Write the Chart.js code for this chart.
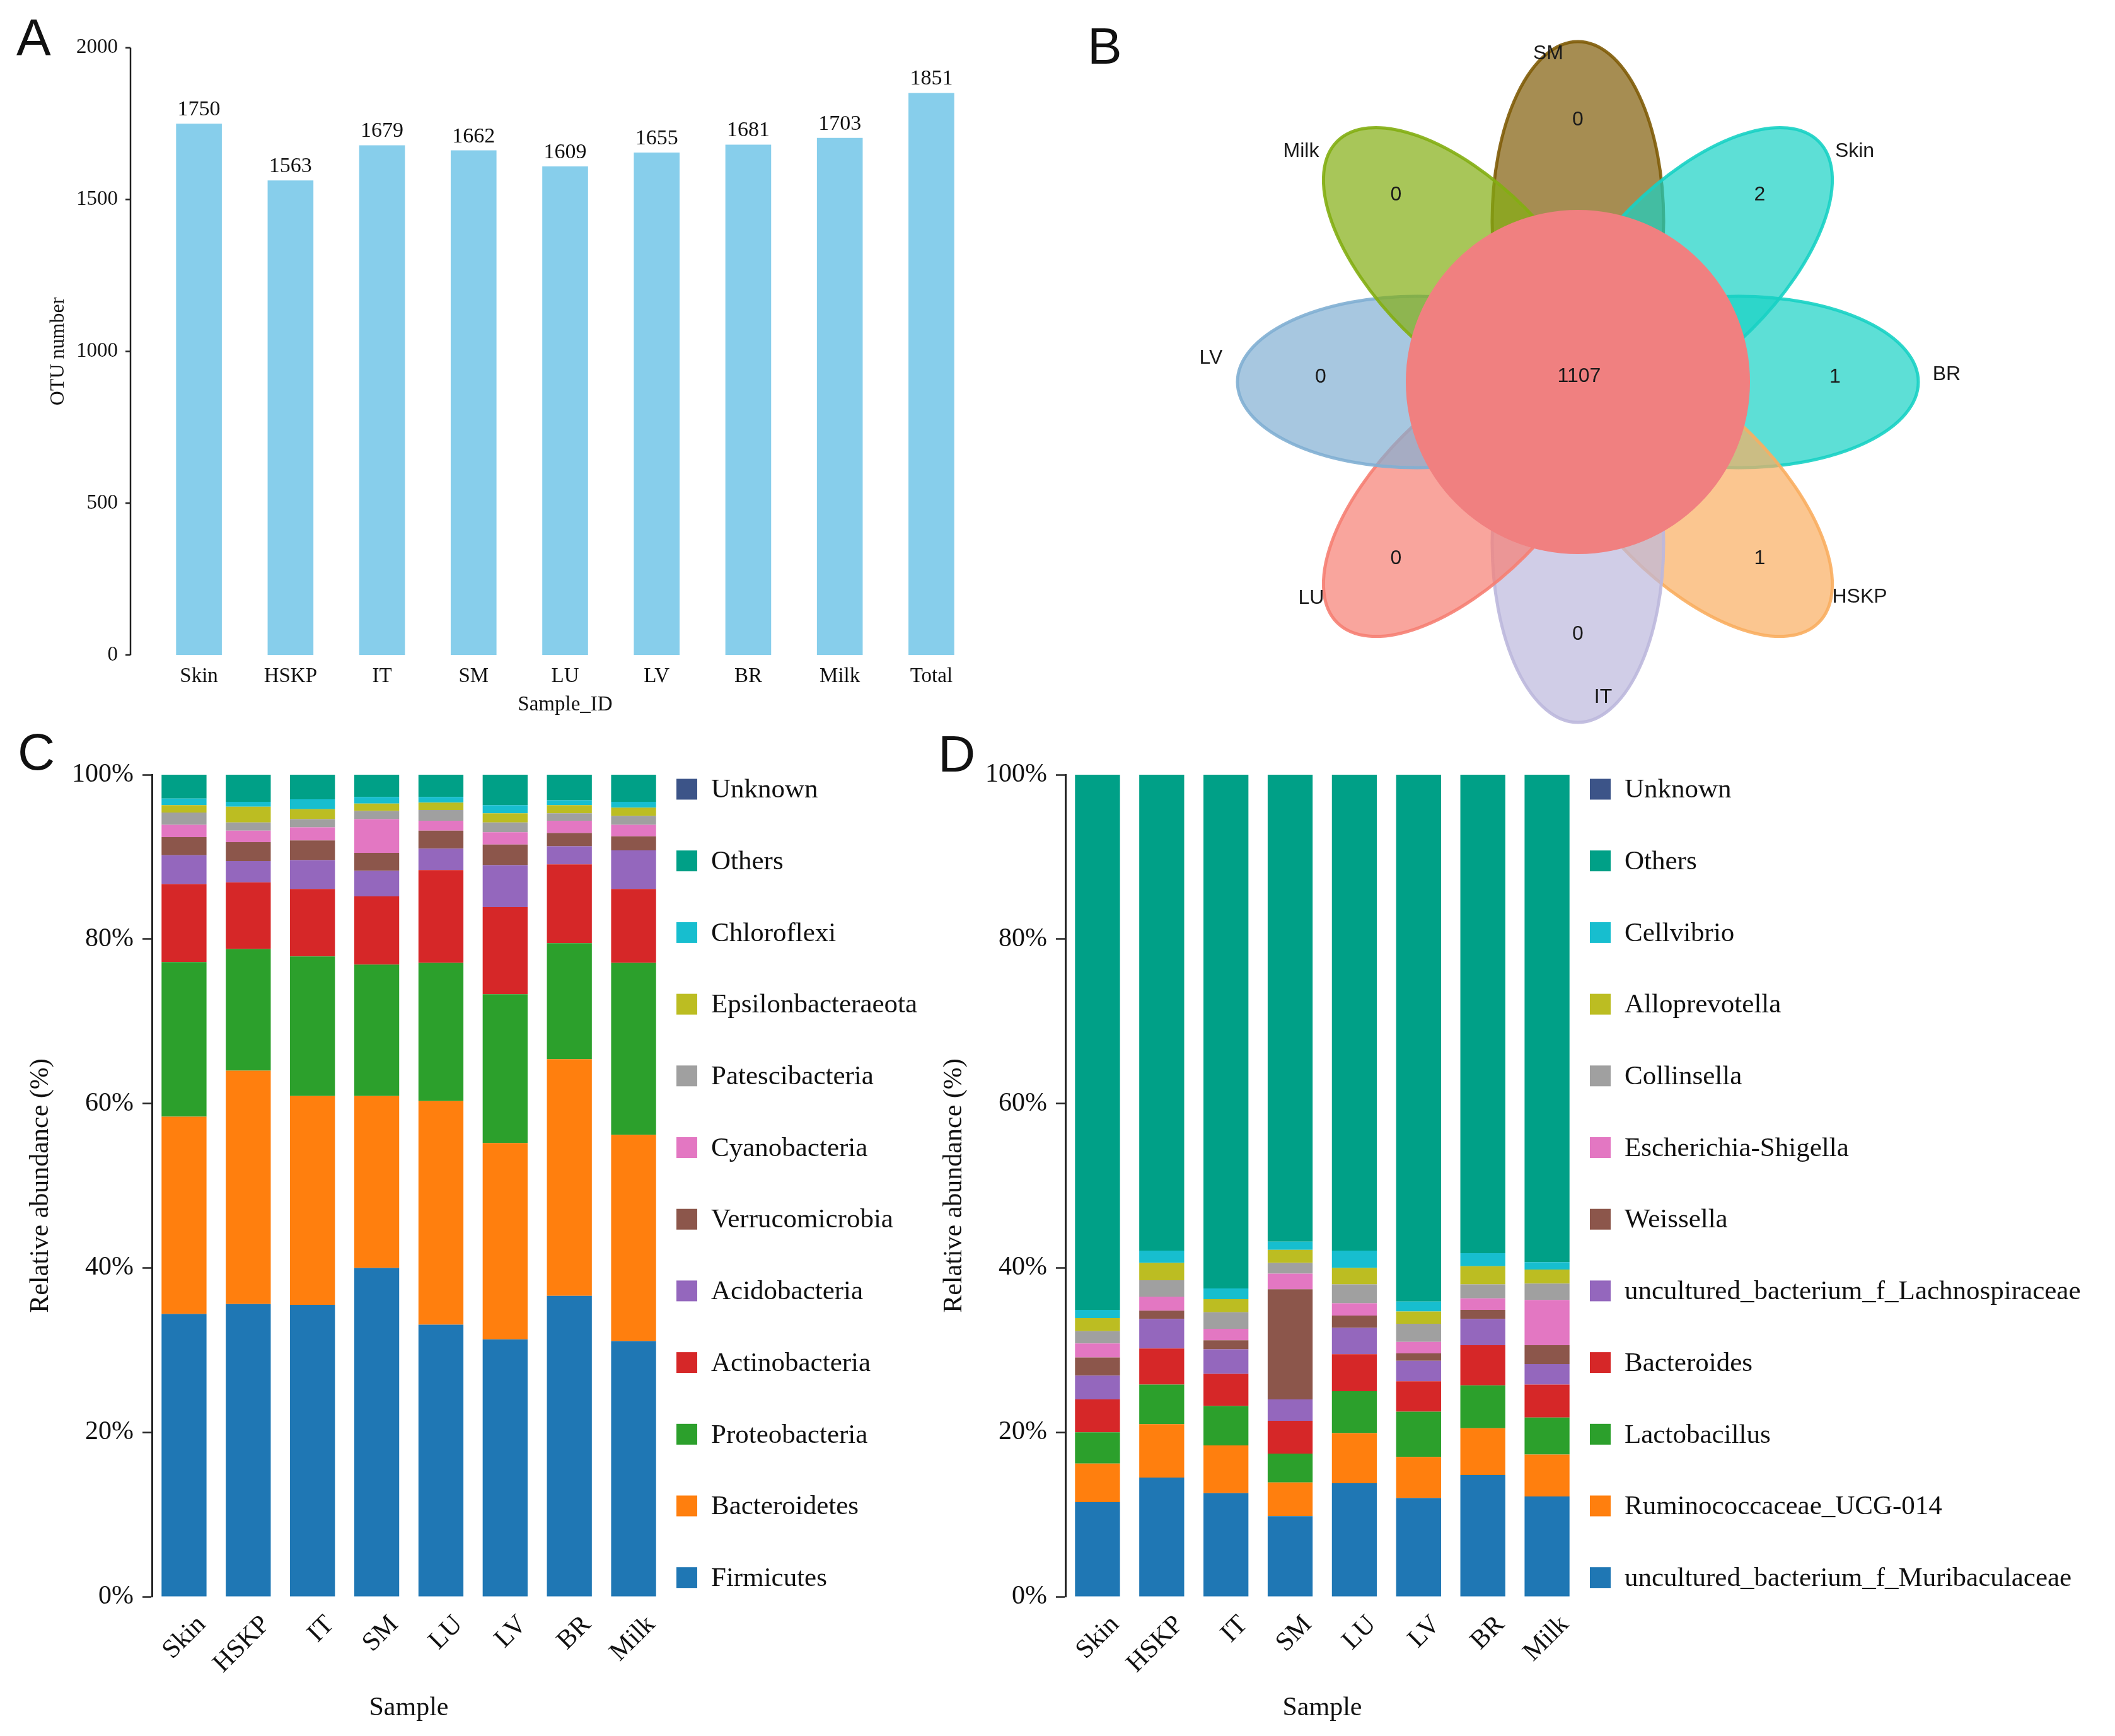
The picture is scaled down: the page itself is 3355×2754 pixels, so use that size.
<!DOCTYPE html>
<html>
<head>
<meta charset="utf-8">
<script src="https://cdn.jsdelivr.net/npm/chart.js@4.4.1/dist/chart.umd.min.js"></script>
<style>
  html, body { margin: 0; padding: 0; background: #fff; }
  body { width: 3355px; height: 2754px; position: relative; overflow: hidden; }
  canvas { position: absolute; }
  .tag { position: absolute; font-family: "Liberation Sans", Arial, sans-serif; font-size: 82px; line-height: 1; color: #111; }
</style>
</head>
<body>
<canvas id="otu" width="1660" height="1150" style="left:0;top:0;width:1660px;height:1150px"></canvas>
<canvas id="venn" width="1695" height="1150" style="left:1660px;top:0;width:1695px;height:1150px"></canvas>
<canvas id="phylum" width="1500" height="1604" style="left:0;top:1150px;width:1500px;height:1604px"></canvas>
<canvas id="genus" width="1906" height="1604" style="left:1449px;top:1150px;width:1906px;height:1604px"></canvas>
<div class="tag" style="left:26px;top:18px">A</div>
<div class="tag" style="left:1725px;top:32px">B</div>
<div class="tag" style="left:28px;top:1152px">C</div>
<div class="tag" style="left:1488px;top:1155px">D</div>
<script>
// panel A
const otuSamples = ["Skin", "HSKP", "IT", "SM", "LU", "LV", "BR", "Milk", "Total"];
const otuCounts = [1750, 1563, 1679, 1662, 1609, 1655, 1681, 1703, 1851];

// panel B
const vennSets = ["SM", "Skin", "BR", "HSKP", "IT", "LU", "LV", "Milk"];
const vennUnique = [0, 2, 1, 1, 0, 0, 0, 0];
const vennCore = 1107;

// panel C (relative abundance, %)
const samples = ["Skin", "HSKP", "IT", "SM", "LU", "LV", "BR", "Milk"];
const firmicutes = [34.4, 35.6, 35.5, 40.0, 33.1, 31.3, 36.6, 31.1];
const bacteroidetes = [24.0, 28.4, 25.4, 20.9, 27.2, 23.9, 28.8, 25.1];
const proteobacteria = [18.8, 14.8, 17.0, 16.0, 16.8, 18.1, 14.1, 20.9];
const actinobacteria = [9.5, 8.1, 8.2, 8.3, 11.3, 10.6, 9.6, 9.0];
const acidobacteria = [3.5, 2.6, 3.5, 3.1, 2.6, 5.1, 2.2, 4.7];
const verrucomicrobia = [2.2, 2.3, 2.4, 2.2, 2.2, 2.5, 1.6, 1.7];
const cyanobacteria = [1.5, 1.4, 1.6, 4.1, 1.2, 1.5, 1.5, 1.4];
const patescibacteria = [1.5, 1.0, 1.0, 1.0, 1.3, 1.2, 0.9, 1.1];
const epsilonbacteraeota = [0.9, 1.9, 1.2, 0.9, 0.9, 1.1, 1.0, 1.0];
const chloroflexi = [0.8, 0.6, 1.2, 0.8, 0.7, 1.0, 0.6, 0.7];
const phylumOthers = [2.9, 3.3, 3.0, 2.7, 2.7, 3.7, 3.1, 3.3];
const phylumUnknown = [0, 0, 0, 0, 0, 0, 0, 0];

// panel D (relative abundance, %)
const muribaculaceae = [11.5, 14.5, 12.6, 9.8, 13.8, 12.0, 14.8, 12.2];
const ruminococcaceae = [4.7, 6.5, 5.8, 4.1, 6.1, 5.0, 5.7, 5.1];
const lactobacillus = [3.8, 4.8, 4.8, 3.5, 5.1, 5.5, 5.2, 4.5];
const bacteroides = [4.0, 4.4, 3.9, 4.0, 4.5, 3.7, 4.9, 4.0];
const lachnospiraceae = [2.9, 3.6, 3.0, 2.6, 3.2, 2.5, 3.2, 2.5];
const weissella = [2.2, 1.0, 1.1, 13.4, 1.5, 0.9, 1.1, 2.3];
const escherichia = [1.7, 1.7, 1.4, 1.9, 1.5, 1.4, 1.4, 5.5];
const collinsella = [1.5, 2.0, 2.0, 1.3, 2.3, 2.2, 1.7, 2.0];
const alloprevotella = [1.6, 2.1, 1.6, 1.6, 2.0, 1.5, 2.2, 1.7];
const cellvibrio = [1.0, 1.5, 1.3, 1.0, 2.1, 1.2, 1.6, 0.9];
const genusOthers = [65.1, 57.9, 62.5, 56.8, 57.9, 64.1, 58.2, 59.3];
const genusUnknown = [0, 0, 0, 0, 0, 0, 0, 0];

const SERIF = '"Liberation Serif", "Times New Roman", serif';
const SANS = '"Liberation Sans", Arial, sans-serif';
const INK = "#111";
const stackColors = ["#1f77b4", "#ff7f0e", "#2ca02c", "#d62728", "#9467bd", "#8c564b",
  "#e377c2", "#a0a0a0", "#bcbd22", "#17becf", "#00a087", "#3c5488"];
const petalRgb = ["128,92,8", "24,209,196", "24,209,196", "249,174,97",
  "188,184,221", "246,127,115", "129,175,211", "131,174,18"];
// label offsets around the flower, in venn units from the centre
const vennNameAt = [[-47, -521], [439, -366], [585, -12], [447, 341],
  [40, 500], [-423, 343], [-582, -38], [-439, -366]];

Chart.defaults.color = INK;
Chart.defaults.animation = false;
Chart.defaults.devicePixelRatio = 1;

// ---------- plugins ----------
const offsetAxis = {
  id: "offsetAxis",
  afterDraw(chart, args, opts) {
    const {ctx} = chart;
    const y = chart.scales.y;
    const x0 = chart.chartArea.left - opts.gap;
    ctx.save();
    ctx.strokeStyle = "#222";
    ctx.lineWidth = 2.5;
    ctx.beginPath();
    ctx.moveTo(x0, y.getPixelForValue(y.max));
    ctx.lineTo(x0, y.getPixelForValue(y.min));
    y.ticks.forEach(t => {
      const py = y.getPixelForValue(t.value);
      ctx.moveTo(x0 - opts.tick, py);
      ctx.lineTo(x0, py);
    });
    ctx.stroke();
    ctx.restore();
  },
};

const barValues = {
  id: "barValues",
  afterDatasetsDraw(chart) {
    const {ctx} = chart;
    const ds = chart.data.datasets[0];
    ctx.save();
    ctx.font = "34px " + SERIF;
    ctx.fillStyle = INK;
    ctx.textAlign = "center";
    ctx.textBaseline = "bottom";
    chart.getDatasetMeta(0).data.forEach((bar, i) => {
      ctx.fillText(String(ds.data[i]), bar.x, bar.y - 5);
    });
    ctx.restore();
  },
};

const sideLegend = {
  id: "sideLegend",
  afterDraw(chart, args, opts) {
    const {ctx, chartArea} = chart;
    const items = chart.data.datasets.slice().reverse();
    const x = chartArea.right + opts.gap;
    ctx.save();
    ctx.font = opts.font;
    ctx.textBaseline = "middle";
    items.forEach((ds, i) => {
      const yc = chartArea.top + opts.first + i * opts.step;
      ctx.fillStyle = ds.backgroundColor;
      ctx.fillRect(x, yc - opts.box / 2, opts.box, opts.box);
      ctx.fillStyle = INK;
      ctx.fillText(ds.label, x + opts.box + opts.textGap, yc + 2);
    });
    ctx.restore();
  },
};

const flower = {
  id: "flower",
  beforeDatasetsDraw(chart, args, opts) {
    const {ctx} = chart;
    const {x, y} = chart.scales;
    const unit = x.getPixelForValue(1) - x.getPixelForValue(0);
    ctx.save();
    vennSets.forEach((name, i) => {
      const ang = (-90 + 45 * i) * Math.PI / 180;
      const ex = x.getPixelForValue(Math.cos(ang) * opts.petalDist);
      const ey = y.getPixelForValue(Math.sin(ang) * opts.petalDist);
      ctx.beginPath();
      ctx.ellipse(ex, ey, opts.petalA * unit, opts.petalB * unit, ang, 0, Math.PI * 2);
      ctx.fillStyle = "rgba(" + petalRgb[i] + ",0.7)";
      ctx.fill();
      ctx.lineWidth = 5;
      ctx.strokeStyle = "rgba(" + petalRgb[i] + ",0.9)";
      ctx.stroke();
    });
    ctx.beginPath();
    ctx.arc(x.getPixelForValue(0), y.getPixelForValue(0), opts.coreR * unit, 0, Math.PI * 2);
    ctx.fillStyle = "#f08080";
    ctx.fill();
    ctx.restore();
  },
  afterDatasetsDraw(chart) {
    const {ctx} = chart;
    const {x, y} = chart.scales;
    const ds = chart.data.datasets[0];
    ctx.save();
    ctx.font = "32px " + SANS;
    ctx.fillStyle = "#1a1a1a";
    ctx.textAlign = "center";
    ctx.textBaseline = "middle";
    chart.getDatasetMeta(0).data.forEach((pt, i) => {
      ctx.fillText(String(ds.data[i].v), pt.x, pt.y);
    });
    vennSets.forEach((name, i) => {
      ctx.fillText(name, x.getPixelForValue(vennNameAt[i][0]), y.getPixelForValue(vennNameAt[i][1]));
    });
    ctx.restore();
  },
};

// ---------- A: OTU numbers ----------
new Chart(document.getElementById("otu"), {
  type: "bar",
  data: {
    labels: otuSamples,
    datasets: [{data: otuCounts, backgroundColor: "#87ceeb", borderWidth: 0,
      categoryPercentage: 1, barPercentage: 0.5}],
  },
  options: {
    responsive: false,
    layout: {padding: {top: 70, right: 110, bottom: 0, left: 0}},
    plugins: {legend: {display: false}, tooltip: {enabled: false},
      offsetAxis: {gap: 36, tick: 8}},
    scales: {
      x: {
        grid: {display: false, drawTicks: false}, border: {display: false},
        ticks: {font: {family: SERIF, size: 33}, padding: 15, autoSkip: false, maxRotation: 0},
        title: {display: true, text: "Sample_ID", font: {family: SERIF, size: 33}, padding: {top: 0, bottom: 12}},
        afterFit: s => { s.height = 111; },
      },
      y: {
        min: 0, max: 2000,
        grid: {display: false, drawTicks: false}, border: {display: false},
        ticks: {stepSize: 500, font: {family: SERIF, size: 33}, padding: 56, callback: v => String(v)},
        title: {display: true, text: "OTU number", font: {family: SERIF, size: 32}, padding: {top: 73, bottom: 0}},
        afterFit: s => { s.width = 243; },
      },
    },
  },
  plugins: [barValues, offsetAxis],
});

// ---------- B: flower venn ----------
const vennPoints = vennUnique.map((v, i) => {
  const ang = (-90 + 45 * i) * Math.PI / 180;
  return {x: Math.cos(ang) * 408, y: Math.sin(ang) * 408 - 8, v};
});
vennPoints.push({x: 2, y: -9, v: vennCore});

new Chart(document.getElementById("venn"), {
  type: "scatter",
  data: {datasets: [{data: vennPoints, pointRadius: 0}]},
  options: {
    responsive: false,
    layout: {padding: 0},
    plugins: {legend: {display: false}, tooltip: {enabled: false},
      flower: {petalDist: 255, petalA: 285, petalB: 136, coreR: 273}},
    scales: {
      x: {type: "linear", display: false, min: -843, max: 852},
      y: {type: "linear", display: false, reverse: true, min: -606, max: 544},
    },
  },
  plugins: [flower],
});

// ---------- C / D: stacked relative abundance ----------
function stackChart(id, names, series) {
  return new Chart(document.getElementById(id), {
    type: "bar",
    data: {
      labels: samples,
      datasets: series.map((vals, i) => ({
        label: names[i], data: vals, backgroundColor: stackColors[i], borderWidth: 0,
        categoryPercentage: 1, barPercentage: 0.7,
      })),
    },
    options: {
      responsive: false,
      layout: {padding: {top: 79, right: document.getElementById(id).width - 1056, bottom: 0, left: 0}},
      plugins: {
        legend: {display: false}, tooltip: {enabled: false},
        sideLegend: {gap: 17, first: 23, step: 113.7, box: 33, textGap: 22, font: "43px " + SERIF},
      },
      scales: {
        x: {
          stacked: true,
          grid: {display: false, drawTicks: false}, border: {display: false},
          ticks: {font: {family: SERIF, size: 42}, minRotation: 45, maxRotation: 45,
            autoSkip: false, padding: 20, labelOffset: 28},
          title: {display: true, text: "Sample", font: {family: SERIF, size: 42}, padding: {top: 0, bottom: 19}},
          afterFit: s => { s.height = 221; },
        },
        y: {
          stacked: true, min: 0, max: 100,
          grid: {display: true, drawOnChartArea: false, drawTicks: true, tickLength: 15,
            tickWidth: 2.5, tickColor: "#222"},
          border: {display: true, color: "#222", width: 3},
          ticks: {stepSize: 20, padding: 14, font: {family: SERIF, size: 42}, callback: v => v + "%"},
          title: {display: true, text: "Relative abundance (%)", font: {family: SERIF, size: 42},
            padding: {top: 40, bottom: 0}},
          afterFit: s => { s.width = 241; },
        },
      },
    },
    plugins: [sideLegend],
  });
}

stackChart("phylum",
  ["Firmicutes", "Bacteroidetes", "Proteobacteria", "Actinobacteria", "Acidobacteria",
    "Verrucomicrobia", "Cyanobacteria", "Patescibacteria", "Epsilonbacteraeota",
    "Chloroflexi", "Others", "Unknown"],
  [firmicutes, bacteroidetes, proteobacteria, actinobacteria, acidobacteria, verrucomicrobia,
    cyanobacteria, patescibacteria, epsilonbacteraeota, chloroflexi, phylumOthers, phylumUnknown]);

stackChart("genus",
  ["uncultured_bacterium_f_Muribaculaceae", "Ruminococcaceae_UCG-014", "Lactobacillus",
    "Bacteroides", "uncultured_bacterium_f_Lachnospiraceae", "Weissella",
    "Escherichia-Shigella", "Collinsella", "Alloprevotella", "Cellvibrio", "Others", "Unknown"],
  [muribaculaceae, ruminococcaceae, lactobacillus, bacteroides, lachnospiraceae, weissella,
    escherichia, collinsella, alloprevotella, cellvibrio, genusOthers, genusUnknown]);
</script>
</body>
</html>
